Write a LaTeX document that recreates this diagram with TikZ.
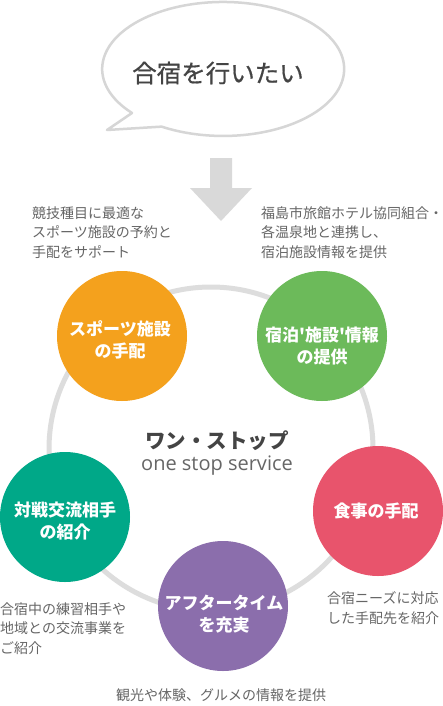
\documentclass[tikz,border=0pt]{standalone}
\usepackage{fontspec}
\newfontfamily\jp{Noto Sans CJK JP}
\newfontfamily\jpmed[FakeBold=0.6]{Noto Sans CJK JP}
\newfontfamily\os{Open Sans}
\definecolor{ringgray}{HTML}{DDDDDD}
\definecolor{bubblegray}{HTML}{D6D6D6}
\definecolor{arrowgray}{HTML}{D9D9D9}
\definecolor{darktext}{HTML}{444444}
\definecolor{desctext}{HTML}{666666}
\definecolor{corange}{HTML}{F4A11D}
\definecolor{cgreen}{HTML}{6CBA5A}
\definecolor{cteal}{HTML}{00A888}
\definecolor{cred}{HTML}{E8546C}
\definecolor{cpurple}{HTML}{8B6EAC}
\tikzset{
  ringline/.style={circle, draw=ringgray, line width=5pt, minimum size=324pt, inner sep=0pt},
  disc/.style={circle, minimum size=130pt, inner sep=0pt},
  disclabel/.style={text=white, font=\jp\bfseries\fontsize{17}{22}\selectfont, align=center, inner sep=0pt},
  desc/.style={text=desctext, font=\jp\fontsize{14}{19.5}\selectfont, align=left, inner sep=0pt, anchor=west},
  bubble/.style={draw=bubblegray, line width=2.5pt, fill=white, line join=round},
}
\begin{document}
\begin{tikzpicture}[x=1pt,y=-1pt]
\useasboundingbox (0,0) rectangle (443,706);
\fill[white] (0,0) rectangle (443,706);
% speech bubble
\draw[bubble] (132,113) arc[start angle=138.9, end angle=480.6, x radius=121, y radius=67] -- (107,130) -- cycle;
\node[text=darktext, font=\jpmed\fontsize{24.5}{24.5}\selectfont, inner sep=0pt] (wish) at (218,73) {合宿を行いたい};
% arrow
\fill[arrowgray] (210,158) -- (232,158) -- (232,188) -- (252,188) -- (221,221) -- (190,188) -- (210,188) -- cycle;
% ring
\node[ringline] (ring) at (211,449) {};
% discs
\node[disc, fill=corange] (sports) at (122,336) {};
\node[disc, fill=cgreen] (stay) at (322,336) {};
\node[disc, fill=cteal] (match) at (65,517) {};
\node[disc, fill=cred] (meal) at (378,511) {};
\node[disc, fill=cpurple] (after) at (223,606) {};
% disc labels
\node[disclabel] (sportsL) at (120,340) {スポーツ施設\\の手配};
\node[disclabel] (stayL) at (322,346) {宿泊'施設'情報\\の提供};
\node[disclabel] (matchL) at (65,521) {対戦交流相手\\の紹介};
\node[disclabel] (mealL) at (376,511) {食事の手配};
\node[disclabel] (afterL) at (224,614) {アフタータイム\\を充実};
% center text
\node[text=darktext, font=\jp\bfseries\fontsize{20.5}{20.5}\selectfont, inner sep=0pt] (onestop) at (217,441) {ワン・ストップ};
\node[text=desctext, font=\os\fontsize{20}{20}\selectfont, inner sep=0pt, anchor=base] (oss) at (217,470) {one stop service};
% descriptions
\node[desc] (d1) at (32,232.5) {競技種目に最適な\\スポーツ施設の予約と\\手配をサポート};
\node[desc] (d2) at (261,232.5) {福島市旅館ホテル協同組合・\\各温泉地と連携し、\\宿泊施設情報を提供};
\node[desc] (d3) at (0,628.5) {合宿中の練習相手や\\地域との交流事業を\\ご紹介};
\node[desc] (d4) at (327,608) {合宿ニーズに対応\\した手配先を紹介};
\node[text=desctext, font=\jp\fontsize{14}{19.5}\selectfont, inner sep=0pt] (d5) at (221,695) {観光や体験、グルメの情報を提供};
\end{tikzpicture}
\end{document}
